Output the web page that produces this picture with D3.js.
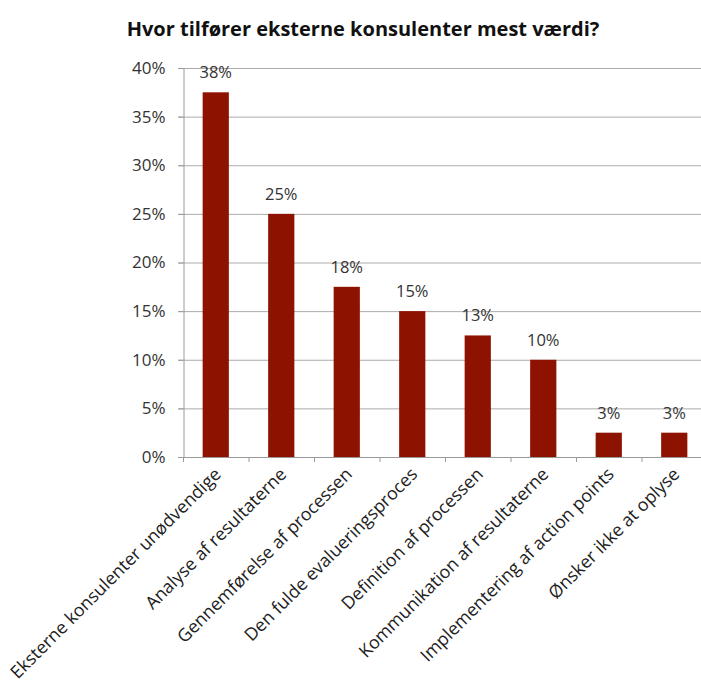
<!DOCTYPE html>
<html>
<head>
<meta charset="utf-8">
<script src="https://cdn.jsdelivr.net/npm/d3@7"></script>
<style>
  html, body { margin: 0; padding: 0; background: #fff; }
  svg { display: block; }
</style>
</head>
<body>
<svg id="chart" width="701" height="684"></svg>
<script>
// Survey answers: share of respondents (percent)
const categories = [
  "Eksterne konsulenter unødvendige",
  "Analyse af resultaterne",
  "Gennemførelse af processen",
  "Den fulde evalueringsproces",
  "Definition af processen",
  "Kommunikation af resultaterne",
  "Implementering af action points",
  "Ønsker ikke at oplyse"
];
const values = [37.5, 25, 17.5, 15, 12.5, 10, 2.5, 2.5];
const yTicks = [0, 5, 10, 15, 20, 25, 30, 35, 40];
const title = "Hvor tilfører eksterne konsulenter mest værdi?";

const svg = d3.select("#chart");
const font = "'Open Sans', sans-serif";
const m = { left: 183, right: 707, top: 68, bottom: 457 };

const x = d3.scaleBand().domain(categories).range([m.left, m.right]).paddingInner(0.6).paddingOuter(0.3);
const xTick = d3.scaleBand().domain(categories).range([m.left, m.right]);
const y = d3.scaleLinear().domain([0, 40]).range([m.bottom, m.top]);

// title
svg.append("text")
  .attr("x", 363).attr("y", 36)
  .attr("text-anchor", "middle")
  .attr("font-family", font).attr("font-weight", "bold")
  .attr("font-size", 20).attr("fill", "#111")
  .text(title);

// horizontal gridlines
svg.append("g").selectAll("line").data(yTicks).join("line")
  .attr("x1", m.left - 5).attr("x2", m.right)
  .attr("y1", d => y(d) + 0.5).attr("y2", d => y(d) + 0.5)
  .attr("stroke", "#ababab").attr("stroke-width", 1);

// y axis
const yAxis = svg.append("g")
  .attr("transform", `translate(${m.left + 0.5},0)`)
  .call(d3.axisLeft(y).tickValues(yTicks).tickFormat(d => d + "%").tickSize(5).tickPadding(13));
yAxis.select(".domain").attr("stroke", "#9a9a9a");
yAxis.selectAll(".tick line").attr("stroke", "#9a9a9a");
yAxis.selectAll("text").attr("font-family", font).attr("font-size", 17).attr("fill", "#333");

// x axis baseline and category separators
const xAxis = svg.append("g");
xAxis.append("line")
  .attr("x1", m.left).attr("x2", m.right)
  .attr("y1", m.bottom + 0.5).attr("y2", m.bottom + 0.5)
  .attr("stroke", "#9a9a9a");
xAxis.selectAll(".sep").data(categories).join("line")
  .attr("class", "sep")
  .attr("x1", d => xTick(d) + 0.5).attr("x2", d => xTick(d) + 0.5)
  .attr("y1", m.bottom).attr("y2", m.bottom + 5)
  .attr("stroke", "#9a9a9a");

// bars
svg.append("g").selectAll("rect").data(values).join("rect")
  .attr("x", (d, i) => x(categories[i]))
  .attr("width", x.bandwidth())
  .attr("y", d => y(d))
  .attr("height", d => y(0) - y(d))
  .attr("fill", "#8e1200");

// value labels
svg.append("g").selectAll("text").data(values).join("text")
  .attr("x", (d, i) => x(categories[i]) + x.bandwidth() / 2)
  .attr("y", d => y(d) - 14)
  .attr("text-anchor", "middle")
  .attr("font-family", font).attr("font-size", 16.5).attr("fill", "#333")
  .text(d => Math.round(d) + "%");

// rotated category labels
svg.append("g").selectAll("text").data(categories).join("text")
  .attr("transform", d => `translate(${xTick(d) + xTick.bandwidth() / 2 + 3},${m.bottom + 15}) rotate(-45)`)
  .attr("text-anchor", "end")
  .attr("dominant-baseline", "middle")
  .attr("font-family", font).attr("font-size", 17.8).attr("fill", "#222")
  .text(d => d);
</script>
</body>
</html>
